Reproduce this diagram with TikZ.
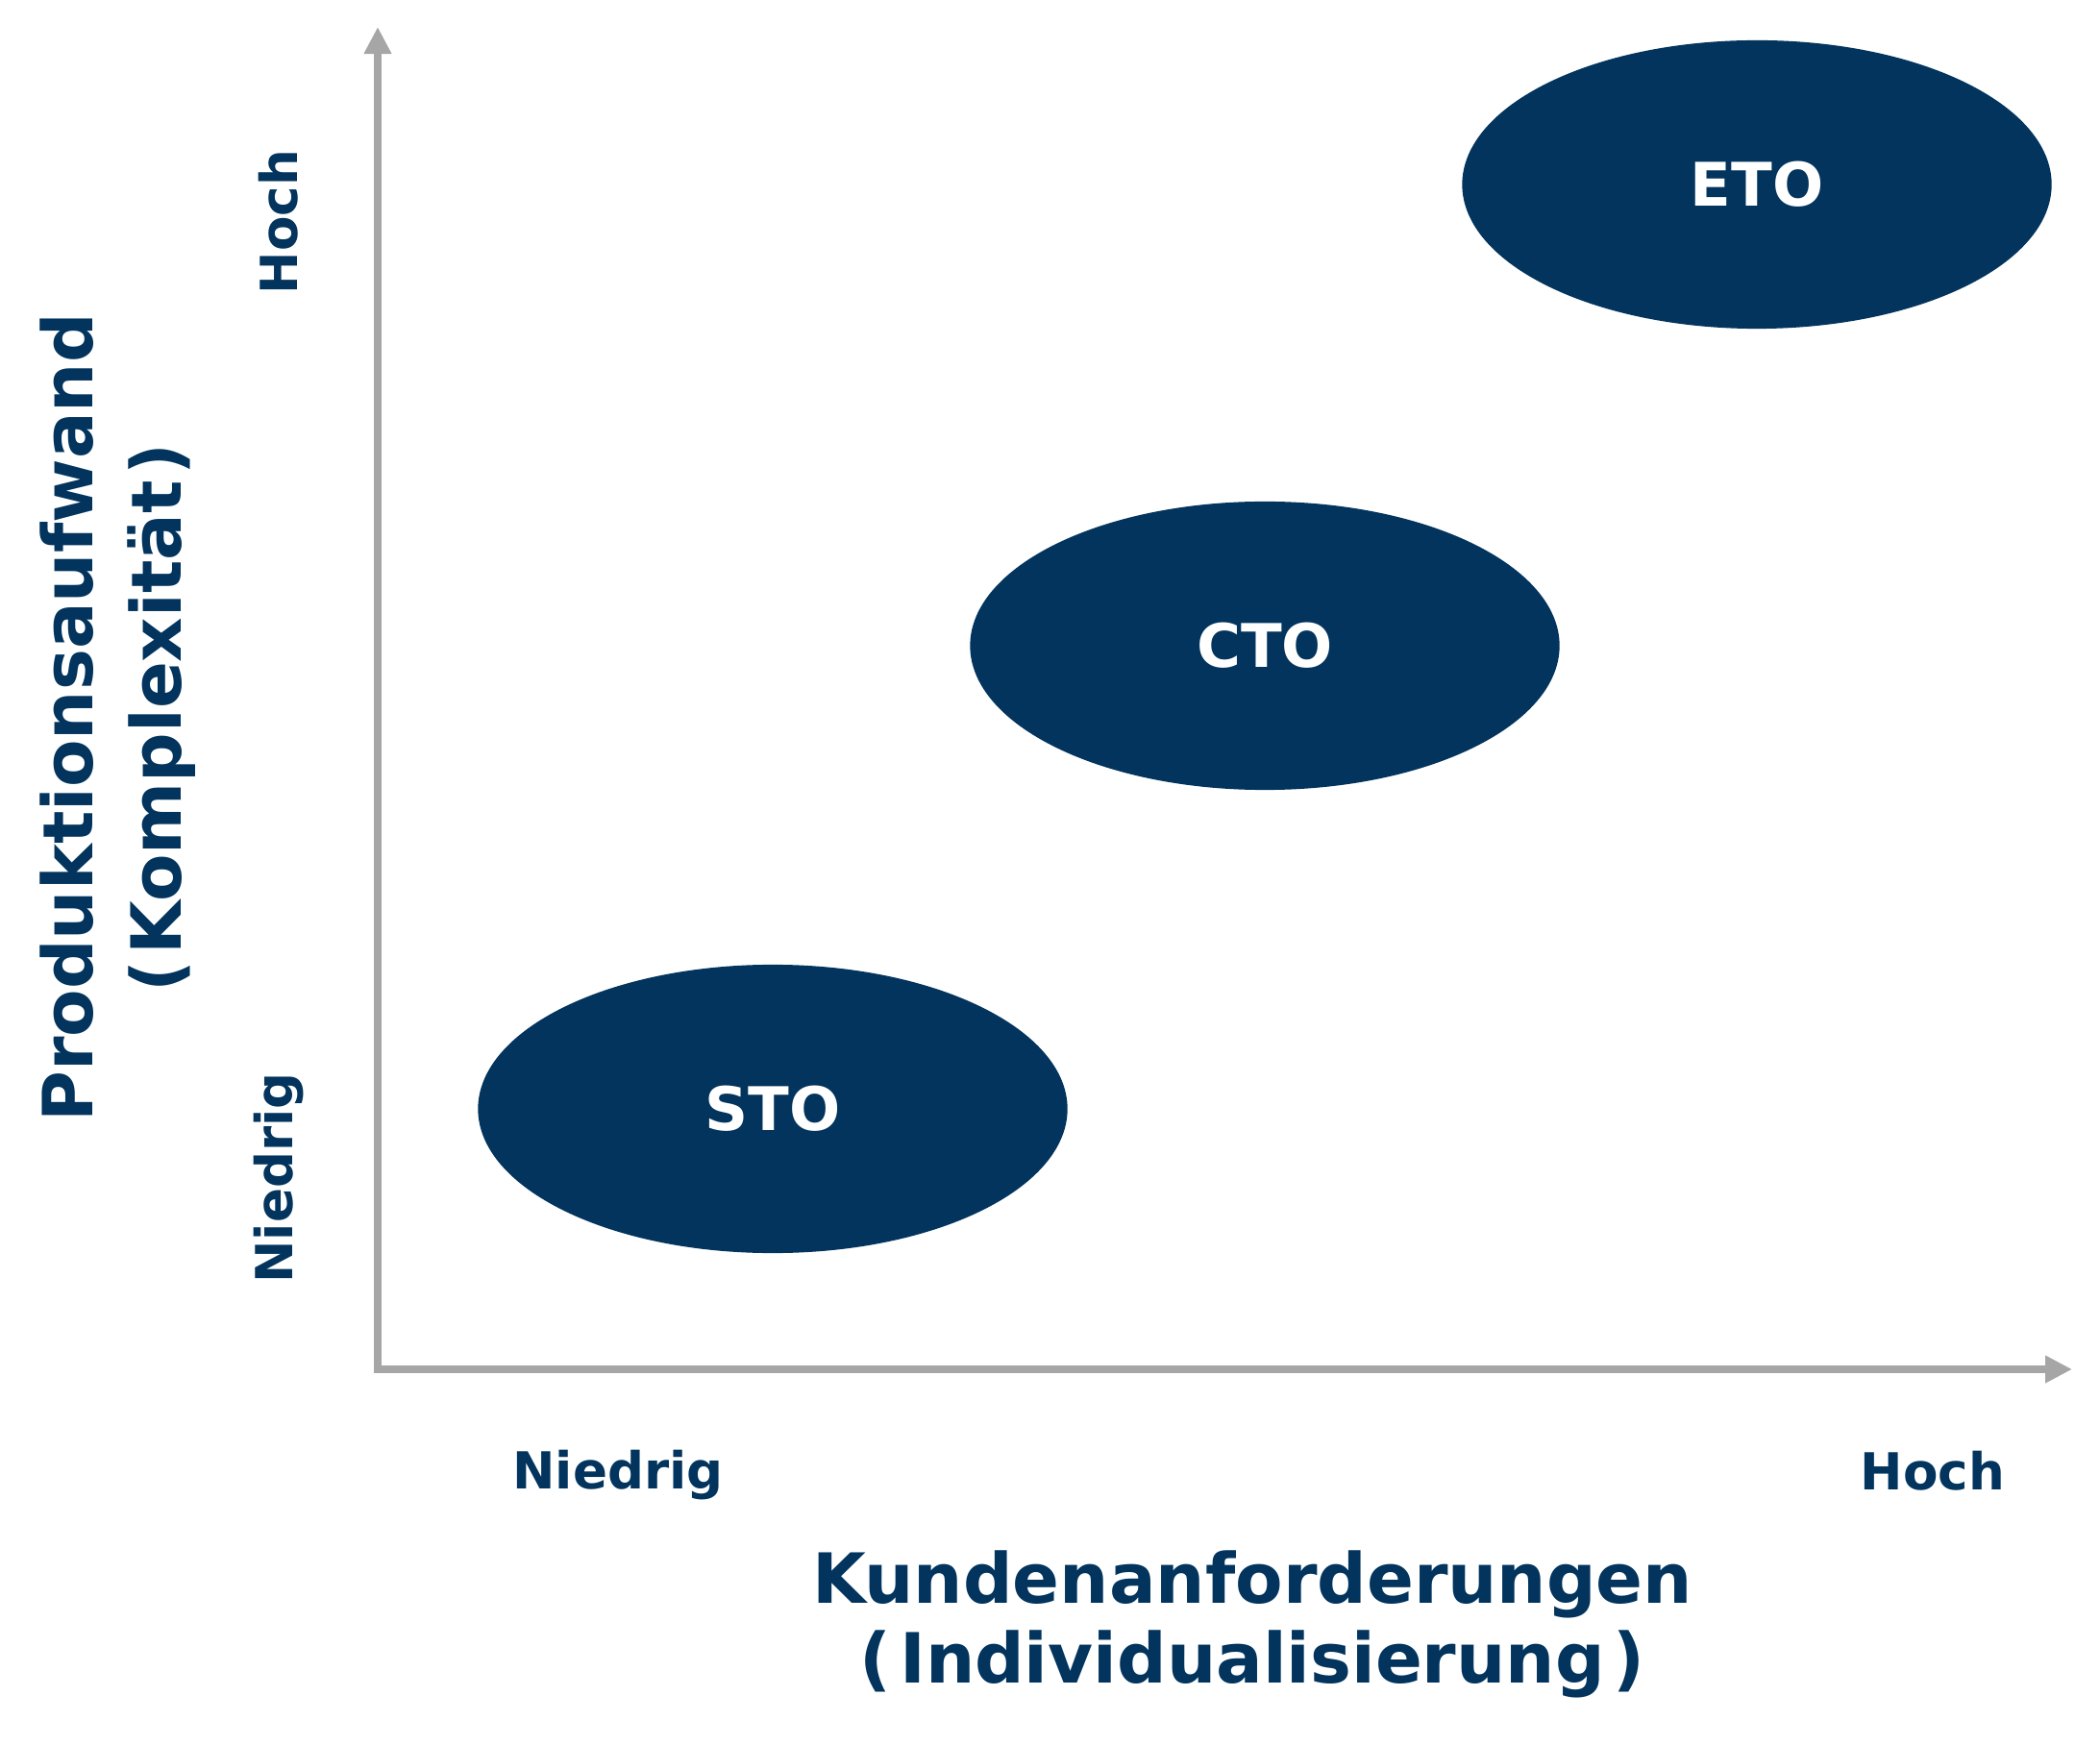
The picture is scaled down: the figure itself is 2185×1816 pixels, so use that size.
\documentclass[tikz,border=0pt]{standalone}
\usepackage{fontspec}
\setmainfont{DejaVu Sans}
\usetikzlibrary{arrows.meta,shapes.geometric}

\definecolor{navy}{HTML}{02345D}
\definecolor{axisgray}{HTML}{A6A6A6}

\tikzset{blob/.style = {shape = ellipse,
                        fill = navy,
                        text = white,
                        minimum width = 6.13cm,
                        minimum height = 3.0cm,
                        inner sep = 0pt,
                        font = \bfseries\fontsize{17.8}{20}\selectfont},
         axis/.style = {draw = axisgray,
                        line width = 2pt,
                        {Triangle[length=0.28cm,width=0.27cm]}-{Triangle[length=0.28cm,width=0.27cm]}},
         tick/.style = {text = navy,
                        inner sep = 0pt,
                        font = \bfseries\fontsize{15.1}{18}\selectfont},
         title/.style = {text = navy,
                        inner sep = 0pt,
                        align = center,
                         font = \bfseries\fontsize{20.5}{23.6}\selectfont}}

\begin{document}
\begin{tikzpicture}[x=0.01cm,y=-0.01cm]
	\useasboundingbox (0,0) rectangle (2185,1816);
		\coordinate (o) at (393,1425);
		\coordinate (ytop) at (393,28);
		\coordinate (xend) at (2156,1425);
		\draw[axis] (ytop) -- (o) -- (xend);
		\node[blob] (sto) at (804,1154) {STO};
		\node[blob] (cto) at (1316,672) {CTO};
		\node[blob] (eto) at (1828,192) {ETO};
		\node[tick] (xlow) at (643,1535) {Niedrig};
		\node[tick] (xhigh) at (2011,1531) {Hoch};
		\node[tick, rotate=90] (ylow) at (290,1226) {Niedrig};
		\node[tick, rotate=90] (yhigh) at (290,231) {Hoch};
		\node[title] (xlabel) at (1303,1690) {Kundenanforderungen\\(\kern0.12em Individualisierung\kern0.12em)};
		\node[title, rotate=90, font = \bfseries\fontsize{20.5}{26.2}\selectfont] (ylabel) at (123,747) {Produktionsaufwand\\(\kern0.08em Komplexität\kern0.08em)};
	\end{tikzpicture}
\end{document}
